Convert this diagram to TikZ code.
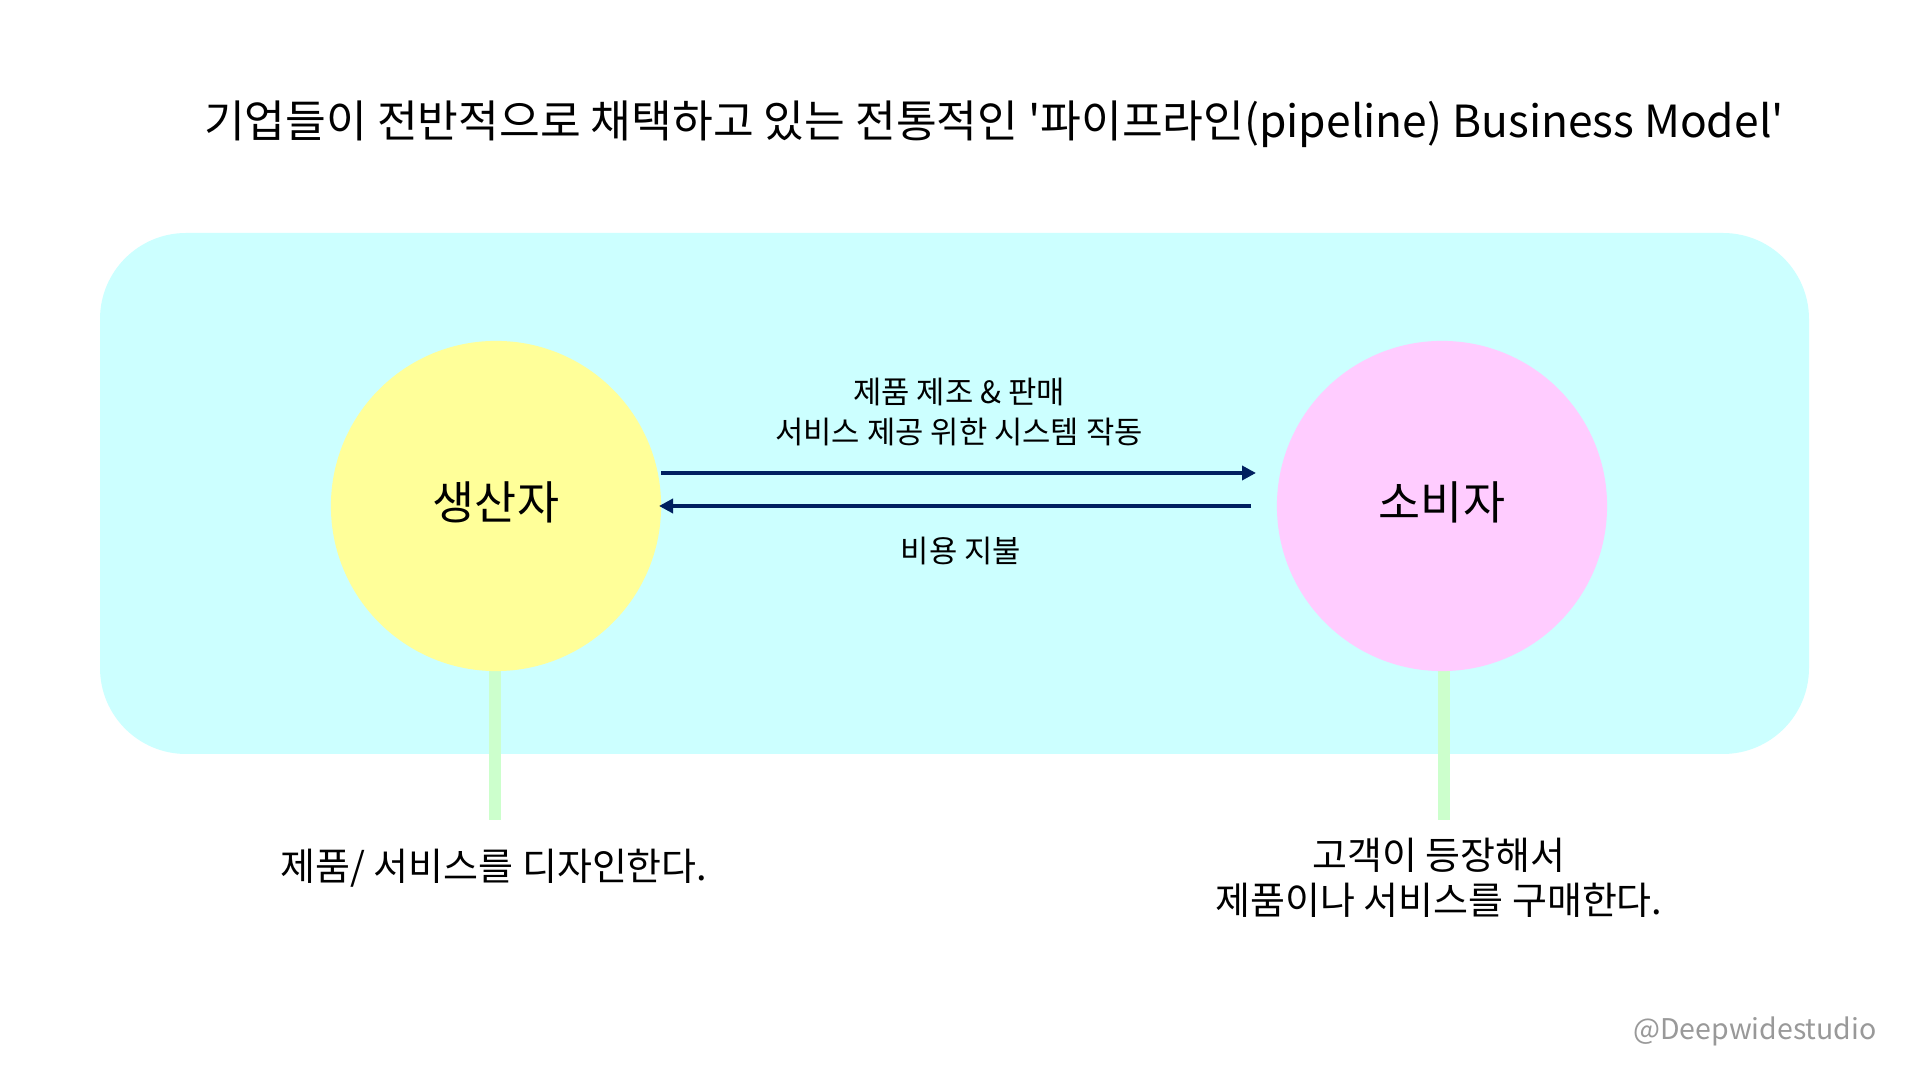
\documentclass[tikz,border=0pt]{standalone}
\usepackage{fontspec}
\setmainfont{Noto Sans CJK KR}[Ligatures=TeXOff]
\usetikzlibrary{arrows.meta}
\definecolor{bgcyan}{HTML}{CCFFFF}
\definecolor{prodyellow}{HTML}{FFFF99}
\definecolor{conspink}{HTML}{FFCCFF}
\definecolor{barGreen}{HTML}{CCFFCC}
\definecolor{navy}{HTML}{002060}
\tikzset{
  px/.style={x=0.01cm,y=-0.01cm},
  party/.style={circle,minimum size=3.3cm,inner sep=0pt,font=\fontsize{13}{15}\selectfont},
  flow/.style={draw=navy,line width=1.4pt,-{Triangle[length=0.14cm,width=0.14cm]}},
  stem/.style={draw=barGreen,line width=0.12cm},
  midlbl/.style={align=center,font=\fontsize{8.75}{11.5}\selectfont},
  botlbl/.style={align=center,font=\fontsize{10.8}{12.8}\selectfont},
}
\begin{document}
\begin{tikzpicture}[px]
\useasboundingbox (0,0) rectangle (1920,1080);
\fill[white] (0,0) rectangle (1920,1080);
\node[font=\fontsize{12.6}{15}\selectfont] (title) at (994,124) {기업들이 전반적으로 채택하고 있는 전통적인 '파이프라인(pipeline) Business Model'};
\fill[bgcyan,rounded corners=0.86cm] (100,233) rectangle (1809,754);
\coordinate (lbot) at (495,820);
\coordinate (rbot) at (1444,820);
\coordinate (lc) at (495,506);
\coordinate (rc) at (1444,506);
\draw[stem] (lc) -- (lbot);
\draw[stem] (rc) -- (rbot);
\node[party,fill=prodyellow] (prod) at (496,506) {};
\node[party,fill=conspink] (cons) at (1442,506) {};
\node[font=\fontsize{13}{15}\selectfont] (prodlbl) at (496,502) {생산자};
\node[font=\fontsize{13}{15}\selectfont] (conslbl) at (1442,502) {소비자};
\coordinate (a1s) at (661,473);
\coordinate (a1e) at (1256,473);
\coordinate (a2s) at (1251,506);
\coordinate (a2e) at (659,506);
\draw[flow] (a1s) -- (a1e);
\draw[flow] (a2s) -- (a2e);
\node[midlbl] (top) at (959,412) {제품 제조 \& 판매\\서비스 제공 위한 시스템 작동};
\node[midlbl] (pay) at (961,551) {비용 지불};
\node[botlbl] (design) at (494,868) {제품/ 서비스를 디자인한다.};
\node[botlbl] (buy) at (1439,878) {고객이 등장해서\\제품이나 서비스를 구매한다.};
\node[anchor=east,text=black!40,font=\fontsize{8.1}{10}\selectfont] (wm) at (1889,1031) {@Deepwidestudio};
\end{tikzpicture}
\end{document}
